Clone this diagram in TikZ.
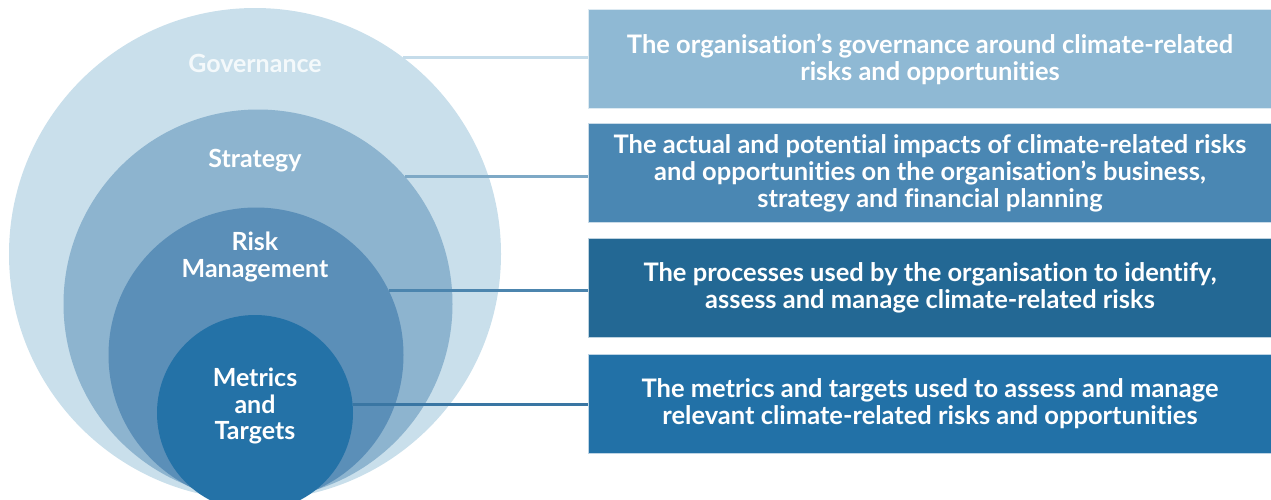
\documentclass[tikz,border=0pt]{standalone}
\usepackage{fontspec}
\setmainfont{Lato}[Ligatures=NoCommon]
\definecolor{cgov}{HTML}{C9DFEB}
\definecolor{cstr}{HTML}{8DB4CF}
\definecolor{crisk}{HTML}{5B8FB8}
\definecolor{cmet}{HTML}{2472A7}
\definecolor{bgov}{HTML}{8FB9D4}
\definecolor{bstr}{HTML}{4A87B3}
\definecolor{brisk}{HTML}{236894}
\definecolor{bmet}{HTML}{2271A7}
\definecolor{lgov}{HTML}{C5DCEA}
\definecolor{lstr}{HTML}{7EA9C6}
\definecolor{lrisk}{HTML}{4C85AE}
\definecolor{lmet}{HTML}{3A76A3}
\tikzset{
  ring/.style={circle, inner sep=0pt, outer sep=0pt, minimum size=#1},
  lbl/.style={font=\fontsize{25}{26.5}\selectfont\bfseries, text=white, align=center, inner sep=0pt},
  infobox/.style={rectangle, anchor=west, minimum width=684pt, minimum height=99pt, inner sep=0pt, outer sep=0pt,
    font=\fontsize{25.5}{27}\selectfont\bfseries, text=white, align=center, draw=white!70!#1, line width=0.6pt, fill=#1},
  conn/.style={line width=2.4pt, draw=#1}
}
\begin{document}
\begin{tikzpicture}[x=1pt,y=-1pt]
\useasboundingbox (0,0) rectangle (1271,499);
\begin{scope}
\clip (0,0) rectangle (1271,499);
\node[ring=492pt, fill=cgov] (gov) at (255,254) {};
\node[ring=389pt, fill=cstr] (str) at (258,304) {};
\node[ring=295pt, fill=crisk] (risk) at (256,355) {};
\node[ring=196pt, fill=cmet] (met) at (255,413) {};
\end{scope}
\node[lbl, text=white!80!cgov] (tgov) at (255,63) {Governance};
\node[lbl] (tstr) at (255,161) {Strategy};
\node[lbl] (trisk) at (255,257) {Risk\\Management};
\node[lbl] (tmet) at (255,406) {Metrics\\and\\Targets};

\node[infobox=bgov] (b1) at (588,59) {The organisation’s governance around climate-related\\risks and opportunities};
\node[infobox=bstr] (b2) at (588,173) {The actual and potential impacts of climate-related risks\\and opportunities on the organisation’s business,\\strategy and financial planning};
\node[infobox=brisk] (b3) at (588,288) {The processes used by the organisation to identify,\\assess and manage climate-related risks};
\node[infobox=bmet] (b4) at (588,404) {The metrics and targets used to assess and manage\\relevant climate-related risks and opportunities};

\draw[conn=lgov] (gov.53) -- (gov.53 -| b1.west);
\draw[conn=lstr] (str.41) -- (str.41 -| b2.west);
\draw[conn=lrisk] (risk.26) -- (risk.26 -| b3.west);
\draw[conn=lmet] (met.5) -- (met.5 -| b4.west);
\end{tikzpicture}
\end{document}
